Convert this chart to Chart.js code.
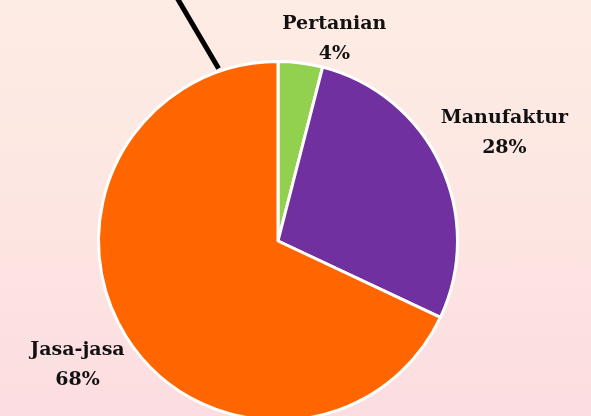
<!DOCTYPE html>
<html>
<head>
<meta charset="utf-8">
<script src="https://cdn.jsdelivr.net/npm/chart.js@4"></script>
<style>
  html, body { margin: 0; padding: 0; overflow: hidden; }
  body {
    width: 591px; height: 416px;
    background: linear-gradient(180deg, #fdece4 0%, #fde6e2 50%, #fcdde1 100%);
  }
  #wrap { position: relative; width: 591px; height: 426px; }
</style>
</head>
<body>
<div id="wrap"><canvas id="sectorChart"></canvas></div>
<script>
// Struktur ekonomi per sektor (%)
const sectors = ['Pertanian', 'Manufaktur', 'Jasa-jasa'];
const shares = [4, 28, 68];
const sliceColors = ['#92d050', '#7030a0', '#ff6600'];

// label placement (radius factor + small nudge), not data
const labelPlacement = [
    { k: 1.17, dx: 30, dy: 6 },
    { k: 1.40, dx: -1, dy: -1 },
    { k: 1.31, dx: -2, dy: -2 }
];

const outsideLabels = {
    id: 'outsideLabels',
    afterDatasetsDraw(chart) {
        const ctx = chart.ctx;
        const meta = chart.getDatasetMeta(0);
        const total = shares.reduce((s, v) => s + v, 0);
        ctx.save();
        ctx.fillStyle = '#111111';
        ctx.font = 'bold 19px "DejaVu Serif"';
        ctx.textAlign = 'center';
        ctx.textBaseline = 'middle';
        meta.data.forEach((arc, i) => {
            const mid = (arc.startAngle + arc.endAngle) / 2;
            const p = labelPlacement[i];
            const r = arc.outerRadius * p.k;
            const x = arc.x + Math.cos(mid) * r + p.dx;
            const y = arc.y + Math.sin(mid) * r + p.dy;
            const pct = Math.round(shares[i] / total * 100) + '%';
            ctx.fillText(sectors[i], x, y - 15);
            ctx.fillText(pct, x, y + 15);
        });

        // black pointer line touching the pie rim
        const arc0 = meta.data[0];
        const a = -Math.PI / 2 - 19 * Math.PI / 180;
        const sx = arc0.x + Math.cos(a) * (arc0.outerRadius + 3);
        const sy = arc0.y + Math.sin(a) * (arc0.outerRadius + 3);
        const dir = Math.atan2(-68, -40);
        ctx.strokeStyle = '#000000';
        ctx.lineWidth = 5;
        ctx.beginPath();
        ctx.moveTo(sx, sy);
        ctx.lineTo(sx + Math.cos(dir) * 90, sy + Math.sin(dir) * 90);
        ctx.stroke();
        ctx.restore();
    }
};

new Chart(document.getElementById('sectorChart'), {
    type: 'pie',
    data: {
        labels: sectors,
        datasets: [{
            data: shares,
            backgroundColor: sliceColors,
            borderColor: '#ffffff',
            borderWidth: 3,
            hoverOffset: 0
        }]
    },
    options: {
        responsive: true,
        maintainAspectRatio: false,
        animation: false,
        layout: { padding: { top: 60, bottom: 4, left: 0, right: 35 } },
        plugins: {
            legend: { display: false },
            tooltip: { enabled: false }
        }
    },
    plugins: [outsideLabels]
});
</script>
</body>
</html>
